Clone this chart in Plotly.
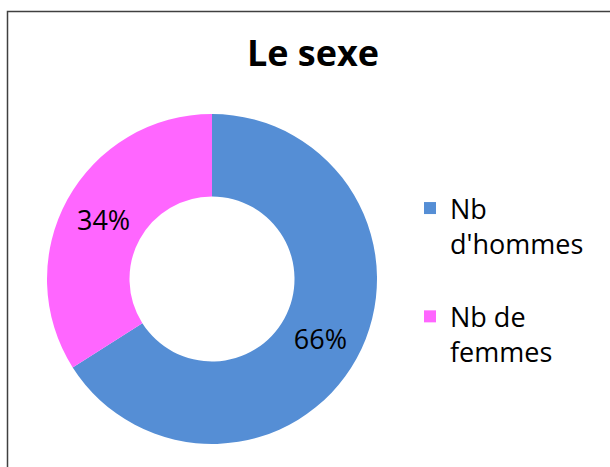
import plotly.graph_objects as go

labels = ["Nb<br>d'hommes<br>&nbsp;", "Nb de<br>femmes"]
values = [66, 34]
colors = ["#558ED5", "#FF66FF"]
title_text = "Le sexe"

W, H = 610, 467

fig = go.Figure(go.Pie(
    labels=labels,
    values=values,
    hole=0.5,
    sort=False,
    direction="clockwise",
    rotation=0,
    marker=dict(colors=colors, line=dict(width=0)),
    textinfo="percent",
    textposition="inside",
    insidetextorientation="horizontal",
    textfont=dict(family="Open Sans", size=27, color="black"),
    domain=dict(x=[47 / W, 377 / W], y=[1 - 444 / H, 1 - 114 / H]),
    hoverinfo="label+percent",
))

fig.update_layout(
    width=W, height=H,
    margin=dict(l=0, r=0, t=0, b=0),
    paper_bgcolor="white",
    plot_bgcolor="white",
    title=dict(text="<b>" + title_text + "</b>", x=313 / W, xanchor="center",
               y=1 - 53 / H, yanchor="middle",
               font=dict(family="Open Sans", size=36, color="black")),
    showlegend=True,
    legend=dict(x=410 / W, xanchor="left", y=1 - 184 / H, yanchor="top",
                valign="top", font=dict(family="Open Sans", size=27, color="black"),
                bgcolor="rgba(0,0,0,0)", traceorder="normal"),
    shapes=[dict(type="rect", xref="paper", yref="paper",
                 x0=7.5 / W, x1=1.2, y0=-0.2, y1=1 - 11.5 / H,
                 line=dict(color="#404040", width=1.5), fillcolor="rgba(0,0,0,0)")],
)

fig.write_html("out.html", config={"displayModeBar": False},
               post_script="document.body.style.margin='0';document.body.style.padding='0';")
